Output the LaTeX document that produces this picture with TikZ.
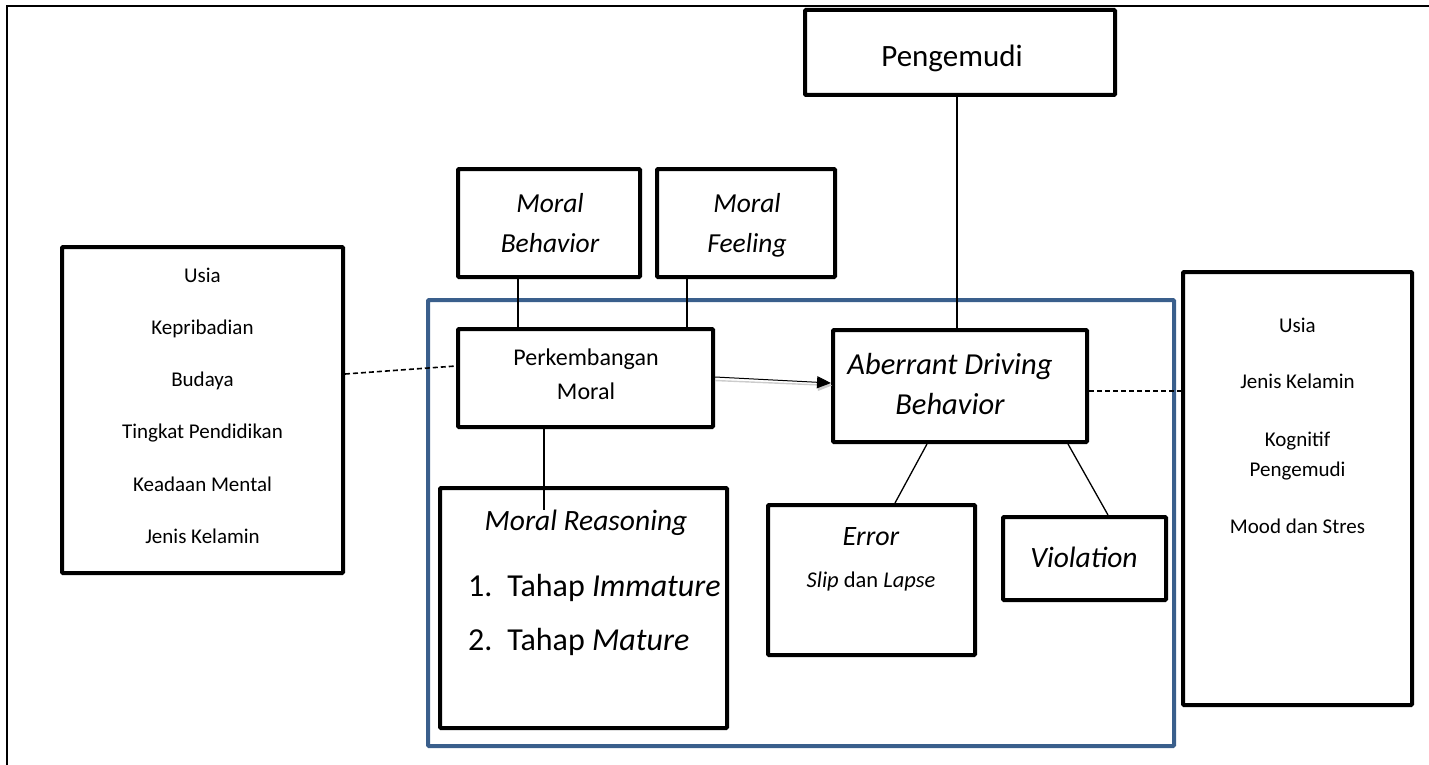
\documentclass[tikz,border=0pt]{standalone}
\usepackage{fontspec}
\setmainfont{Carlito}
\usetikzlibrary{arrows.meta}
\definecolor{frameblue}{RGB}{58,95,140}
\tikzset{
  boxnode/.style={draw, line width=4pt, rounded corners=1pt, inner sep=0pt, fill=white},
  txt/.style={inner sep=0pt, anchor=base},
  big/.style={font=\fontsize{27.5}{30}\selectfont},
  mid/.style={font=\fontsize{24}{27}\selectfont},
  small/.style={font=\fontsize{21}{24}\selectfont},
  listtxt/.style={font=\fontsize{32}{35}\selectfont, anchor=base west},
  conn/.style={line width=1.3pt},
  dashconn/.style={line width=1.6pt, dash pattern=on 5pt off 3pt},
}
\begin{document}
\begin{tikzpicture}[x=1pt,y=-1pt]
\useasboundingbox (0,0) rectangle (1429,765);
% outer frame
\draw[line width=2.5pt] (7,765) -- (7,6) -- (1429,6);
% blue frame
\draw[frameblue, line width=4pt, rounded corners=1pt] (428,300) rectangle (1174,746);

% boxes
\node[boxnode, minimum width=310pt, minimum height=85pt] (peng) at (960,52.5) {};
\node[txt, font=\fontsize{31}{34}\selectfont] (pengt) at (952,67) {Pengemudi};

\node[boxnode, minimum width=182pt, minimum height=108pt] (mb) at (549,223) {};
\node[txt, big] (mbt1) at (550,212) {\itshape Moral};
\node[txt, big] (mbt2) at (550,252) {\itshape Behavior};

\node[boxnode, minimum width=178pt, minimum height=108pt] (mf) at (746,223) {};
\node[txt, big] (mft1) at (747,212) {\itshape Moral};
\node[txt, big] (mft2) at (747,252) {\itshape Feeling};

\node[boxnode, minimum width=255pt, minimum height=98pt] (pm) at (585.5,378) {};
\node[txt, mid] (pmt1) at (586,365) {Perkembangan};
\node[txt, mid] (pmt2) at (586,399) {Moral};

\node[boxnode, minimum width=254pt, minimum height=112pt] (adb) at (960,386) {};
\node[txt, font=\fontsize{30.5}{33}\selectfont] (adbt1) at (950,374) {\itshape Aberrant Driving};
\node[txt, font=\fontsize{30.5}{33}\selectfont] (adbt2) at (950,414) {\itshape Behavior};

\node[boxnode, minimum width=281pt, minimum height=326pt] (lbox) at (202.5,410) {};
\node[txt, small] (l1) at (202.5,282) {Usia};
\node[txt, small] (l2) at (202.5,334) {Kepribadian};
\node[txt, small] (l3) at (202.5,386) {Budaya};
\node[txt, small] (l4) at (202.5,438) {Tingkat Pendidikan};
\node[txt, small] (l5) at (202.5,491) {Keadaan Mental};
\node[txt, small] (l6) at (202.5,543) {Jenis Kelamin};

\node[boxnode, minimum width=287pt, minimum height=240pt] (mr) at (583.5,608) {};
\node[txt, font=\fontsize{29.5}{32}\selectfont] (mrt1) at (586,530) {\itshape Moral Reasoning};
\node[txt, listtxt] (mrt2) at (468,596) {1.\hspace{15pt}Tahap \textit{Immature}};
\node[txt, listtxt] (mrt3) at (468,650) {2.\hspace{15pt}Tahap \textit{Mature}};

\node[boxnode, minimum width=207pt, minimum height=150pt] (err) at (871.5,580) {};
\node[txt, font=\fontsize{28}{30}\selectfont] (errt1) at (871,545) {\itshape Error};
\node[txt, font=\fontsize{22.5}{25}\selectfont] (errt2) at (871,587) {\textit{Slip} dan \textit{Lapse}};

\node[boxnode, minimum width=163pt, minimum height=83pt] (vio) at (1084.5,558.5) {};
\node[txt, font=\fontsize{29.5}{32}\selectfont] (viot) at (1084,567) {\itshape Violation};

\node[boxnode, minimum width=229pt, minimum height=433pt] (rbox) at (1297.5,488.5) {};
\node[txt, small] (r1) at (1297.5,332) {Usia};
\node[txt, small] (r2) at (1297.5,388) {Jenis Kelamin};
\node[txt, small] (r3) at (1297.5,446) {Kognitif};
\node[txt, small] (r4) at (1297.5,476) {Pengemudi};
\node[txt, small] (r5) at (1297.5,533) {Mood dan Stres};

% connectors
\draw[conn] ([xshift=-3pt]peng.south) -- ([xshift=-3pt]peng.south |- adb.north);
\draw[conn] ([xshift=-31pt]mb.south) -- ([xshift=-31pt]mb.south |- pm.north);
\draw[conn] ([xshift=-59pt]mf.south) -- ([xshift=-59pt]mf.south |- pm.north);
\draw[conn] ([xshift=-41.5pt]pm.south) -- ([xshift=-41.5pt,yshift=-24pt]pm.south |- mr.north);
\draw[conn] ([xshift=-33pt]adb.south) -- ([xshift=23.5pt]err.north);
\draw[conn] ([xshift=108pt]adb.south) -- ([xshift=23.5pt]vio.north);
% arrow with shadow
\draw[line width=1.4pt, black!20, -{Triangle[length=14pt,width=12pt]}] ([yshift=-2.5pt]pm.east) -- ([yshift=0.5pt,xshift=1pt]adb.west);
\draw[line width=1pt, -{Triangle[length=14pt,width=12pt]}] ([yshift=1pt]pm.east) -- ([yshift=3pt]adb.west);
% dashed
\draw[dashconn] ([yshift=36pt]lbox.east) -- ([yshift=12pt]pm.west);
\draw[dashconn] ([yshift=-5pt]adb.east) -- ([yshift=-5pt]adb.east -| rbox.west);
\end{tikzpicture}
\end{document}
